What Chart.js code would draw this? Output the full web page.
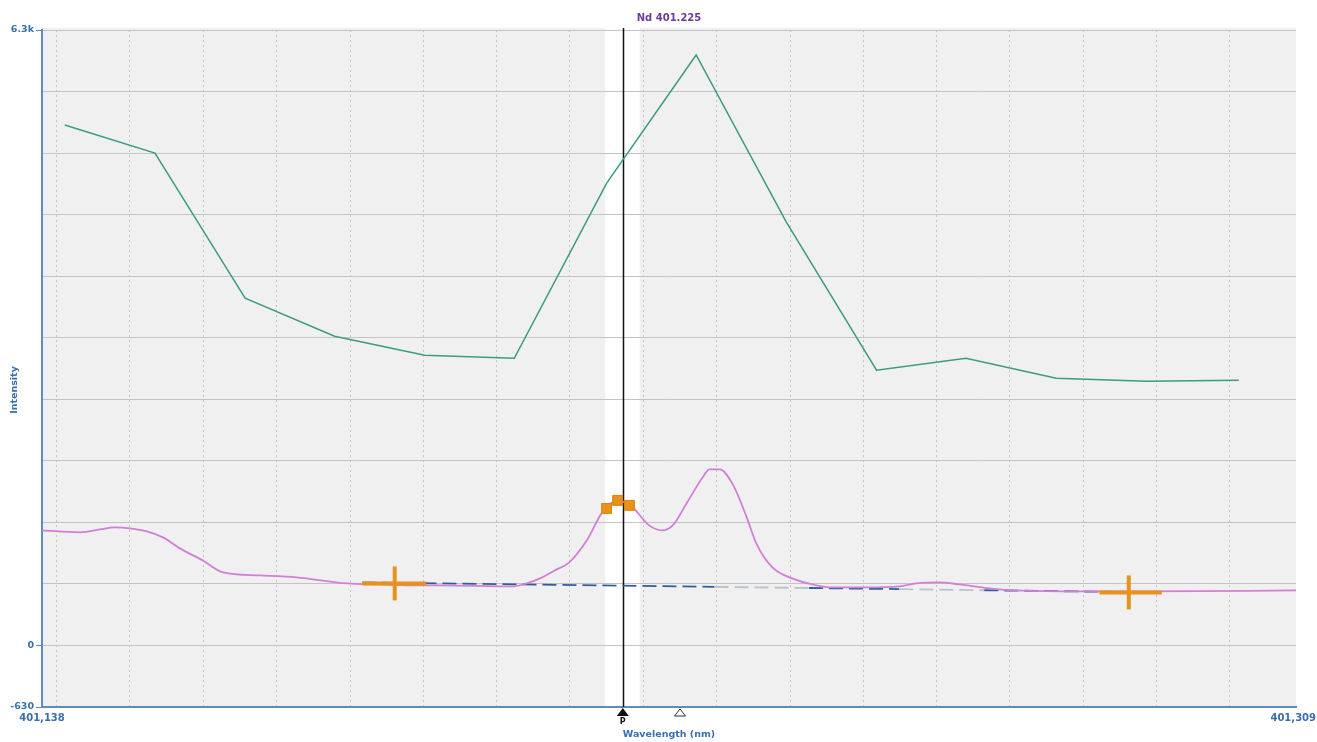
<!DOCTYPE html>
<html>
<head>
<meta charset="utf-8">
<script src="https://cdn.jsdelivr.net/npm/chart.js@4.4.1/dist/chart.umd.min.js"></script>
<style>
  html, body { margin: 0; padding: 0; background: #ffffff; }
  #wrap { width: 1317px; height: 742px; }
</style>
</head>
<body>
<div id="wrap"><canvas id="spec"></canvas></div>
<script>
// scan range / axis
const wlMin = 401.138
const wlMax = 401.309
const intMin = -630
const intMax = 6300
const intStep = 630
const wlGrid = [401.14, 401.15, 401.16, 401.17, 401.18, 401.19, 401.20, 401.21,
                401.22, 401.23, 401.24, 401.25, 401.26, 401.27, 401.28, 401.29, 401.30]
const xEndLabels = ['401,138', '401,309']
const yLabelMap = {6300: '6.3k', 0: '0', '-630': '-630'}

// reference spectrum (green)
const refWl = [401.1411, 401.1534, 401.1657, 401.1779, 401.1902, 401.2024, 401.2150,
               401.2272, 401.2395, 401.2518, 401.2640, 401.2763, 401.2886, 401.3012]
const refInt = [5327, 5040, 3555, 3165, 2971, 2940, 4733,
                6044, 4333, 2817, 2940, 2735, 2704, 2715]

// sample spectrum (pink)
const sampleWl = [401.1380, 401.1432, 401.1459, 401.1479, 401.1500, 401.1523, 401.1545,
                  401.1568, 401.1599, 401.1627, 401.1677, 401.1727, 401.1796, 401.1841,
                  401.1891, 401.1922, 401.2022, 401.2041, 401.2059, 401.2079, 401.2099,
                  401.2123, 401.2144, 401.2165, 401.2185, 401.2208, 401.2225, 401.2240,
                  401.2259, 401.2281, 401.2290, 401.2304, 401.2322, 401.2341, 401.2354,
                  401.2376, 401.2403, 401.2436, 401.2458, 401.2504, 401.2549, 401.2572,
                  401.2604, 401.2631, 401.2662, 401.2685, 401.2708, 401.2798, 401.2890,
                  401.3090]
const sampleInt = [1178, 1158, 1188, 1209, 1199, 1168, 1106,
                   994, 871, 748, 717, 697, 635, 625,
                   615, 615, 604, 635, 686, 768, 850,
                   1076, 1362, 1485, 1414, 1229, 1178, 1229,
                   1455, 1721, 1803, 1803, 1649, 1311, 1045,
                   799, 686, 615, 594, 594, 604, 635,
                   645, 625, 594, 574, 563, 553, 553,
                   563]

// background correction line
const bgWl = [401.1817, 401.2297, 401.2426, 401.2549, 401.2665, 401.2903]
const bgInt = [645, 600, 588, 577, 565, 543]
const bgSegColors = ['#2f5f9a', '#b9c3cc', '#2f5f9a', '#b9c3cc', '#2f5f9a']

// background points (orange crosses)
const crossWl = [401.1861, 401.2862]
const crossInt = [635, 543]
const crossLeftWl = [401.1817, 401.2822]
const crossRightWl = [401.1904, 401.2907]

// peak points (orange squares)
const peakWl = [401.2150, 401.2165, 401.2181]
const peakInt = [1403, 1485, 1434]

// markers
const peakPosWl = 401.2172
const lineWl = 401.225
const lineLabel = 'Nd 401.225'
const windowWl = [401.2148, 401.2195]

const blue = '#3a6fae'
const orange = '#e8921c'
const font = '"DejaVu Sans", Verdana, sans-serif'

const pts = (xs, ys) => xs.map((x, i) => ({x: x, y: ys[i]}))

const crossArms = []
crossWl.forEach(function (w, i) {
    crossArms.push({
        data: [{x: crossLeftWl[i], y: crossInt[i]}, {x: crossRightWl[i], y: crossInt[i]}],
        showLine: true, borderColor: orange, borderWidth: 4, pointRadius: 0, order: 2
    })
})

// plot background, white window, vertical line, titles, bottom markers
const decorPlugin = {
    id: 'decor',
    beforeDraw(chart) {
        const {ctx, chartArea: a, scales: {x}} = chart
        ctx.save()
        ctx.fillStyle = '#f0f0f0'
        ctx.fillRect(a.left, a.top - 2, a.right - a.left, a.bottom - a.top + 2)
        const w0 = x.getPixelForValue(windowWl[0])
        const w1 = x.getPixelForValue(windowWl[1])
        ctx.fillStyle = '#ffffff'
        ctx.fillRect(w0, a.top - 2, w1 - w0, a.bottom - a.top + 2)
        ctx.restore()
    },
    beforeDatasetsDraw(chart) {
        const {ctx, chartArea: a, scales: {x}} = chart
        const px = Math.round(x.getPixelForValue(peakPosWl)) + 0.5
        ctx.save()
        ctx.strokeStyle = '#111111'
        ctx.lineWidth = 1.5
        ctx.beginPath()
        ctx.moveTo(px, a.top - 2)
        ctx.lineTo(px, a.bottom)
        ctx.stroke()
        ctx.restore()
    },
    afterDraw(chart) {
        const {ctx, chartArea: a, scales: {x}} = chart
        ctx.save()
        // title
        ctx.fillStyle = '#6a3d9a'
        ctx.font = 'bold 10px ' + font
        ctx.textAlign = 'center'
        ctx.textBaseline = 'middle'
        ctx.fillText(lineLabel, (a.left + a.right) / 2, 18)

        // x end labels
        ctx.fillStyle = blue
        ctx.textBaseline = 'middle'
        ctx.textAlign = 'center'
        ctx.fillText(xEndLabels[0], x.getPixelForValue(wlMin), 718)
        ctx.textAlign = 'right'
        ctx.fillText(xEndLabels[1], x.getPixelForValue(wlMax) + 20, 718)

        // axis titles
        ctx.textAlign = 'center'
        ctx.font = 'bold 9.5px ' + font
        ctx.fillText('Wavelength (nm)', (a.left + a.right) / 2, 735)
        ctx.translate(15, 390)
        ctx.rotate(-Math.PI / 2)
        ctx.fillText('Intensity', 0, 0)
        ctx.restore()

        // peak / line markers under the axis
        ctx.save()
        const pp = x.getPixelForValue(peakPosWl)
        ctx.fillStyle = '#111111'
        ctx.beginPath()
        ctx.moveTo(pp, a.bottom + 1)
        ctx.lineTo(pp + 6, a.bottom + 9)
        ctx.lineTo(pp - 6, a.bottom + 9)
        ctx.closePath()
        ctx.fill()
        ctx.font = 'bold 8px ' + font
        ctx.textAlign = 'center'
        ctx.textBaseline = 'middle'
        ctx.fillText('P', pp, a.bottom + 15)
        const lp = x.getPixelForValue(lineWl)
        ctx.strokeStyle = '#333333'
        ctx.lineWidth = 1
        ctx.beginPath()
        ctx.moveTo(lp, a.bottom + 2)
        ctx.lineTo(lp + 5.5, a.bottom + 9)
        ctx.lineTo(lp - 5.5, a.bottom + 9)
        ctx.closePath()
        ctx.stroke()
        ctx.restore()
    }
}

new Chart(document.getElementById('spec'), {
    type: 'scatter',
    data: {
        datasets: [
            {
                data: pts(refWl, refInt), showLine: true,
                borderColor: '#3d9a84', borderWidth: 1.5, pointRadius: 0, order: 5
            },
            {
                data: pts(bgWl, bgInt), showLine: true,
                borderColor: '#2f5f9a', borderWidth: 1.8, borderDash: [14, 6], pointRadius: 0,
                segment: {borderColor: ctx => bgSegColors[ctx.p0DataIndex]}, order: 4
            },
            {
                data: pts(sampleWl, sampleInt), showLine: true, cubicInterpolationMode: 'monotone',
                borderColor: '#d27fd6', borderWidth: 1.8, pointRadius: 0, order: 3
            },
            ...crossArms,
            {
                data: pts(crossWl, crossInt), pointStyle: 'line', rotation: 90,
                pointRadius: 17, borderColor: orange, borderWidth: 4, order: 1
            },
            {
                data: pts(peakWl, peakInt), pointStyle: 'rect', pointRadius: 7,
                backgroundColor: orange, borderColor: '#d9800e', borderWidth: 1, order: 0
            }
        ]
    },
    options: {
        responsive: true,
        maintainAspectRatio: false,
        animation: false,
        layout: {padding: {top: 30, right: 20, left: 0, bottom: 0}},
        plugins: {legend: {display: false}, tooltip: {enabled: false}, title: {display: false}},
        scales: {
            x: {
                type: 'linear', min: wlMin, max: wlMax,
                afterBuildTicks: s => { s.ticks = wlGrid.map(v => ({value: v})) },
                afterFit: s => { s.height = 35 },
                ticks: {display: false},
                grid: {color: '#c4c4c4', lineWidth: 1, drawTicks: false},
                border: {color: '#5b8cc4', width: 2, dash: [2, 3]}
            },
            y: {
                type: 'linear', min: intMin, max: intMax,
                afterFit: s => { s.width = 42 },
                ticks: {
                    stepSize: intStep, padding: 2, color: blue,
                    font: {family: font, size: 9.5, weight: 'bold'},
                    callback: v => (yLabelMap[v] !== undefined ? yLabelMap[v] : '')
                },
                grid: {
                    color: '#c4c4c4', lineWidth: 1, tickLength: 6,
                    tickColor: c => (yLabelMap[c.tick.value] !== undefined ? '#5b8cc4' : 'rgba(0,0,0,0)')
                },
                border: {color: '#5b8cc4', width: 2}
            }
        }
    },
    plugins: [decorPlugin]
})
</script>
</body>
</html>
